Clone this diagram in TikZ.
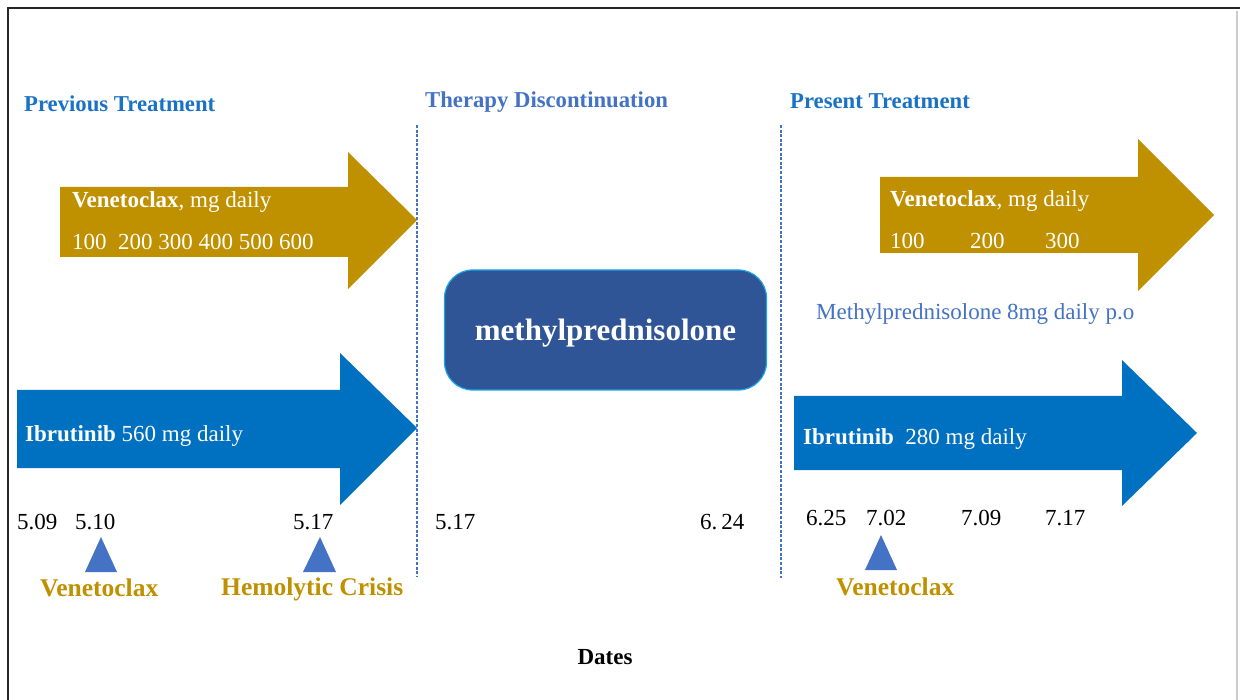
\documentclass[tikz,border=0pt]{standalone}
\usepackage{fontspec}
\setmainfont{Liberation Serif}
\definecolor{gold}{HTML}{BF9000}
\definecolor{arrowblue}{HTML}{0070C0}
\definecolor{titleblue}{HTML}{1A72C4}
\definecolor{softblue}{HTML}{4472C4}
\definecolor{boxblue}{HTML}{2F5597}
\definecolor{boxedge}{HTML}{1AA7E8}
\tikzset{
  txt/.style={inner sep=0pt, anchor=west, font=\fontsize{23}{27}\selectfont},
  title/.style={txt, font=\bfseries\fontsize{22.7}{27}\selectfont, text=titleblue},
  intext/.style={txt, text=white},
  datelbl/.style={txt, text=black},
  event/.style={txt, font=\bfseries\fontsize{25.5}{30}\selectfont, text=gold},
  marker/.style={fill=softblue, draw=none},
  divider/.style={draw=softblue, line width=1.1pt, dash pattern=on 3pt off 1.6pt},
  goldarrow/.style={fill=gold, draw=none},
  bluearrow/.style={fill=arrowblue, draw=none},
}
\begin{document}
\begin{tikzpicture}[x=1pt,y=-1pt]
\useasboundingbox (0,0) rectangle (1240,700);
% frame
\draw[line width=2pt, black!85] (8,700) -- (8,8) -- (1240,8);
\draw[line width=1.5pt, black!20] (1237,11) -- (1237,700);

% section titles
\node[title] (t1) at (24,104) {Previous Treatment};
\node[title, text=softblue] (t2) at (425,102.5) {Therapy Discontinuation};
\node[title] (t3) at (790,101) {Present Treatment};

% dividers
\coordinate (d1a) at (417,125); \coordinate (d1b) at (417,577);
\coordinate (d2a) at (781,125); \coordinate (d2b) at (781,578);
\draw[divider] (d1a) -- (d1b);
\draw[divider] (d2a) -- (d2b);

% previous: venetoclax arrow
\fill[goldarrow] (60,187) -- (348,187) -- (348,152) -- (417,220) -- (348,289) -- (348,257) -- (60,257) -- cycle;
\node[intext] (v1) at (72,202) {\textbf{Venetoclax}, mg daily};
\node[intext] (v1d) at (72,242) {100\ \ 200 300 400 500 600};

% previous: ibrutinib arrow
\fill[bluearrow] (17,390) -- (340,390) -- (340,353) -- (417,428) -- (340,505) -- (340,468) -- (17,468) -- cycle;
\node[intext] (i1) at (25,436) {\textbf{Ibrutinib} 560 mg daily};

% previous dates
\node[datelbl] (p1) at (17,522) {5.09};
\node[datelbl] (p2) at (75,522) {5.10};
\node[datelbl] (p3) at (293,522) {5.17};
\fill[marker] (101,537) -- (117,572) -- (85,572) -- cycle;
\fill[marker] (320,537) -- (336,572) -- (303,572) -- cycle;
\node[event] (e1) at (40,588) {Venetoclax};
\node[event] (e2) at (221,589.5) {Hemolytic Crisis};

% discontinuation
\node[draw=boxedge, line width=1.2pt, fill=boxblue, rounded corners=28pt,
      minimum width=322pt, minimum height=120pt, inner sep=0pt, text depth=0pt,
      text=white, font=\bfseries\fontsize{31}{36}\selectfont] (mp) at (605.5,330) {methylprednisolone};
\node[datelbl] (m1) at (435,522) {5.17};
\node[datelbl] (m2) at (700,522) {6.\,24};

% present: venetoclax arrow
\fill[goldarrow] (880,177) -- (1138,177) -- (1138,139) -- (1214,215) -- (1138,291) -- (1138,253) -- (880,253) -- cycle;
\node[intext] (v2) at (890,201) {\textbf{Venetoclax}, mg daily};
\node[intext] (v2a) at (890,241) {100};
\node[intext] (v2b) at (970,241) {200};
\node[intext] (v2c) at (1045,241) {300};
\node[txt, text=softblue] (mp2) at (816,314) {Methylprednisolone 8mg daily p.o};

% present: ibrutinib arrow
\fill[bluearrow] (794,396) -- (1122,396) -- (1122,360) -- (1197,433) -- (1122,506) -- (1122,470) -- (794,470) -- cycle;
\node[intext] (i2) at (803,439) {\textbf{Ibrutinib}\ \ 280 mg daily};

% present dates
\node[datelbl] (q1) at (806,518) {6.25};
\node[datelbl] (q2) at (866,518) {7.02};
\node[datelbl] (q3) at (961,518) {7.09};
\node[datelbl] (q4) at (1045,518) {7.17};
\fill[marker] (881,535) -- (897,570) -- (865,570) -- cycle;
\node[event] (e3) at (836,587) {Venetoclax};

% axis label
\node[txt, anchor=center, font=\bfseries\fontsize{23}{27}\selectfont] (dates) at (605,657) {Dates};
\end{tikzpicture}
\end{document}
